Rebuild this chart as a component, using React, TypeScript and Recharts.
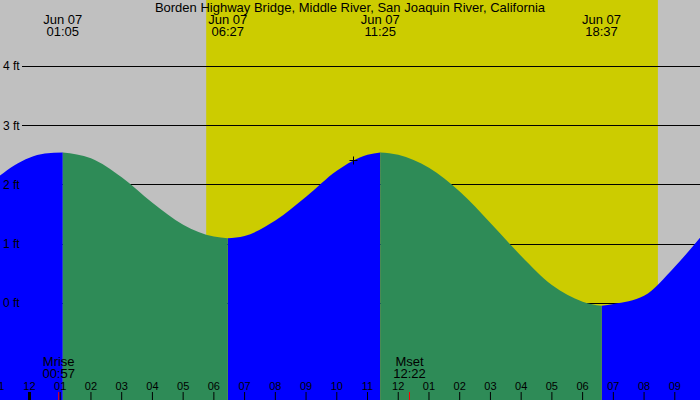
import React from 'react';
import { ComposedChart, Area, XAxis, YAxis, ReferenceArea, ReferenceLine, ReferenceDot } from 'recharts';

const title = 'Borden Highway Bridge, Middle River, San Joaquin River, California';
const dateLabel = 'Jun 07';
const tideTimes = ['01:05', '06:27', '11:25', '18:37'];
const tideLevels = [2.55, 1.1, 2.55, -0.04];
const sampleHours = [-0.96, -0.5, 0, 0.5, 2, 3, 4, 5, 6, 7, 8, 9, 10, 11, 12, 13, 14, 15, 16, 17, 18, 19, 20, 21, 21.82];
const sampleLevels = [2.16, 2.33, 2.46, 2.53, 2.45, 2.13, 1.7, 1.33, 1.13, 1.14, 1.4, 1.8, 2.24, 2.51, 2.51, 2.29, 1.89, 1.36, 0.8, 0.31, 0.03, -0.01, 0.13, 0.62, 1.11];
const hourTicks = [-1, 0, 1, 2, 3, 4, 5, 6, 7, 8, 9, 10, 11, 12, 13, 14, 15, 16, 17, 18, 19, 20, 21];
const hourLabels = ['11', '12', '01', '02', '03', '04', '05', '06', '07', '08', '09', '10', '11', '12', '01', '02', '03', '04', '05', '06', '07', '08', '09'];
const moonTimes = ['00:57', '12:22'];
const moonNames = ['Mrise', 'Mset'];
const sunTimes = ['05:45', '20:27'];
const levelTicks = [0, 1, 2, 3, 4];
const levelLabels = ['0 ft', '1 ft', '2 ft', '3 ft', '4 ft'];
const markerTime = '10:31';
const markerLevel = 2.43;

const X_DOMAIN: [number, number] = [-0.96, 21.82];
const Y_DOMAIN: [number, number] = [-1.629, 5.122];

const toHours = (t: string) => {
  const [hh, mm] = t.split(':').map(Number);
  return hh + mm / 60;
};

const tideHours = tideTimes.map(toHours);
const moonHours = moonTimes.map(toHours);

type Row = { h: number; rise: number | null; fall: number | null };

const allPoints = [
  ...sampleHours.map((h, i) => ({ h, v: sampleLevels[i] })),
  ...tideHours.map((h, i) => ({ h, v: tideLevels[i] })),
].sort((a, b) => a.h - b.h);

const isRising = (h: number) =>
  h <= tideHours[0] || (h >= tideHours[1] && h <= tideHours[2]) || h >= tideHours[3];
const isFalling = (h: number) =>
  (h >= tideHours[0] && h <= tideHours[1]) || (h >= tideHours[2] && h <= tideHours[3]);

const rows: Row[] = allPoints.map((p) => ({
  h: p.h,
  rise: isRising(p.h) ? p.v : null,
  fall: isFalling(p.h) ? p.v : null,
}));

const FONT = '"Liberation Sans", Arial, sans-serif';

const findIdx = (arr: number[], v: number) => arr.findIndex((m) => Math.abs(m - v) < 1e-6);

const HourTick = (props: any) => {
  const { x, payload } = props;
  const idx = findIdx(hourTicks, payload.value);
  const thick = payload.value === 0;
  return (
    <g>
      <text x={x} y={390} textAnchor="middle" fontSize={11} fontFamily={FONT} fill="#000">
        {hourLabels[idx]}
      </text>
      <line x1={x} x2={x} y1={392} y2={400} stroke="#000" strokeWidth={thick ? 3 : 1} />
    </g>
  );
};

const MoonTick = (props: any) => {
  const { x, payload } = props;
  const idx = findIdx(moonHours, payload.value);
  return (
    <g>
      <text x={x} y={366} textAnchor="middle" fontSize={13} fontFamily={FONT} fill="#000">
        {moonNames[idx]}
      </text>
      <text x={x} y={378} textAnchor="middle" fontSize={13} fontFamily={FONT} fill="#000">
        {moonTimes[idx]}
      </text>
      <line x1={x} x2={x} y1={392} y2={400} stroke="#ff0000" strokeWidth={1} />
    </g>
  );
};

const TideTick = (props: any) => {
  const { x, payload } = props;
  const idx = findIdx(tideHours, payload.value);
  return (
    <g>
      <text x={x} y={24} textAnchor="middle" fontSize={13} fontFamily={FONT} fill="#000">
        {dateLabel}
      </text>
      <text x={x} y={36} textAnchor="middle" fontSize={13} fontFamily={FONT} fill="#000">
        {tideTimes[idx]}
      </text>
    </g>
  );
};

const LevelTick = (props: any) => {
  const { y, payload } = props;
  const idx = findIdx(levelTicks, payload.value);
  return (
    <text x={3} y={y} dy={4} textAnchor="start" fontSize={12} fontFamily={FONT} fill="#000">
      {levelLabels[idx]}
    </text>
  );
};

const levelLineShape = (p: any) => {
  const yy = Math.round(p.y1 - 0.5) + 0.5;
  return <line x1={22} x2={p.x2} y1={yy} y2={yy} stroke="#000" strokeWidth={1} />;
};

const crossShape = (p: any) => {
  const cx = Math.round(p.cx) + 0.5;
  const cy = Math.round(p.cy) + 0.5;
  return (
    <g>
      <line x1={cx - 4} x2={cx + 4} y1={cy} y2={cy} stroke="#000" strokeWidth={1} />
      <line x1={cx} x2={cx} y1={cy - 4} y2={cy + 4} stroke="#000" strokeWidth={1} />
    </g>
  );
};

export default function App() {
  return (
    <div style={{ position: 'absolute', left: 0, top: 0, width: 700, height: 400, background: '#C0C0C0', fontFamily: FONT }}>
      <div
        style={{
          position: 'absolute',
          left: 0,
          top: 0,
          width: 700,
          textAlign: 'center',
          fontSize: 13,
          lineHeight: '15px',
          color: '#000',
          zIndex: 5,
          pointerEvents: 'none',
        }}
      >
        {title}
      </div>
      <ComposedChart width={700} height={400} data={rows} margin={{ top: 0, right: 0, bottom: 0, left: 0 }}>
        <XAxis xAxisId="main" dataKey="h" type="number" domain={X_DOMAIN} allowDataOverflow hide />
        <XAxis
          xAxisId="hours"
          dataKey="h"
          type="number"
          domain={X_DOMAIN}
          allowDataOverflow
          orientation="bottom"
          mirror
          ticks={hourTicks}
          interval={0}
          axisLine={false}
          tickLine={false}
          tick={HourTick}
        />
        <XAxis
          xAxisId="moon"
          dataKey="h"
          type="number"
          domain={X_DOMAIN}
          allowDataOverflow
          orientation="bottom"
          mirror
          ticks={moonHours}
          interval={0}
          axisLine={false}
          tickLine={false}
          tick={MoonTick}
        />
        <XAxis
          xAxisId="tides"
          dataKey="h"
          type="number"
          domain={X_DOMAIN}
          allowDataOverflow
          orientation="top"
          mirror
          ticks={tideHours}
          interval={0}
          axisLine={false}
          tickLine={false}
          tick={TideTick}
        />
        <YAxis
          type="number"
          domain={Y_DOMAIN}
          allowDataOverflow
          mirror
          ticks={levelTicks}
          interval={0}
          axisLine={false}
          tickLine={false}
          tick={LevelTick}
        />
        <ReferenceArea
          xAxisId="main"
          x1={toHours(sunTimes[0])}
          x2={toHours(sunTimes[1])}
          fill="#CCCC00"
          fillOpacity={1}
          stroke="none"
          zIndex={0}
        />
        {levelTicks.map((lv) => (
          <ReferenceLine key={lv} xAxisId="main" y={lv} stroke="#000" shape={levelLineShape} zIndex={50} />
        ))}
        <Area
          xAxisId="main"
          type="monotone"
          dataKey="rise"
          fill="#0000FF"
          fillOpacity={1}
          stroke="none"
          baseValue="dataMin"
          connectNulls={false}
          dot={false}
          activeDot={false}
          isAnimationActive={false}
        />
        <Area
          xAxisId="main"
          type="monotone"
          dataKey="fall"
          fill="#2E8B57"
          fillOpacity={1}
          stroke="none"
          baseValue="dataMin"
          connectNulls={false}
          dot={false}
          activeDot={false}
          isAnimationActive={false}
        />
        <ReferenceDot
          xAxisId="main"
          x={toHours(markerTime)}
          y={markerLevel}
          r={4}
          shape={crossShape}
          zIndex={700}
        />
      </ComposedChart>
    </div>
  );
}
